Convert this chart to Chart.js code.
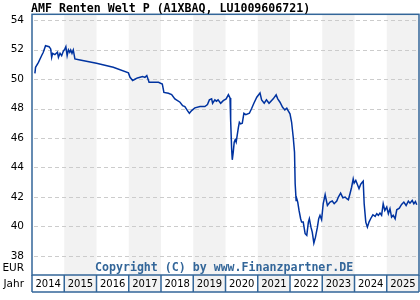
<!DOCTYPE html>
<html lang="de">
<head>
<meta charset="UTF-8" />
<title>AMF Renten Welt P</title>
<script src="https://cdn.jsdelivr.net/npm/chart.js"></script>
<style>
  body { margin: 0; background: #fff; }
  #wrap { width: 420px; height: 300px; position: relative; }
</style>
</head>
<body>
<div id="wrap"><canvas id="myChart" width="420" height="300"></canvas></div>
<script>
// Zeitpunkte (Dezimaljahre) und Kurse in EUR
const datum = [2014.09, 2014.11, 2014.2, 2014.3, 2014.35, 2014.42, 2014.53, 2014.58, 2014.61, 2014.64,
  2014.71, 2014.79, 2014.82, 2014.87, 2014.92, 2014.97, 2015.02, 2015.05, 2015.09, 2015.13,
  2015.17, 2015.2, 2015.24, 2015.28, 2015.33, 2015.49, 2016.0, 2016.52, 2016.99, 2017.04,
  2017.12, 2017.19, 2017.27, 2017.43, 2017.5, 2017.56, 2017.63, 2017.76, 2017.92, 2018.04,
  2018.09, 2018.23, 2018.33, 2018.43, 2018.59, 2018.67, 2018.74, 2018.82, 2018.88, 2018.95,
  2019.05, 2019.21, 2019.36, 2019.44, 2019.5, 2019.57, 2019.6, 2019.67, 2019.72, 2019.77,
  2019.85, 2019.93, 2020.02, 2020.09, 2020.14, 2020.16, 2020.19, 2020.21, 2020.24, 2020.27,
  2020.3, 2020.33, 2020.4, 2020.43, 2020.47, 2020.52, 2020.57, 2020.63, 2020.74, 2020.81,
  2020.88, 2020.97, 2021.07, 2021.12, 2021.2, 2021.27, 2021.35, 2021.48, 2021.57, 2021.62,
  2021.69, 2021.77, 2021.84, 2021.9, 2021.95, 2022.0, 2022.05, 2022.1, 2022.14, 2022.16,
  2022.19, 2022.21, 2022.24, 2022.28, 2022.33, 2022.36, 2022.41, 2022.47, 2022.52, 2022.57,
  2022.6, 2022.65, 2022.69, 2022.74, 2022.79, 2022.85, 2022.89, 2022.93, 2022.98, 2023.03,
  2023.09, 2023.16, 2023.24, 2023.31, 2023.37, 2023.45, 2023.5, 2023.57, 2023.64, 2023.71,
  2023.76, 2023.81, 2023.86, 2023.91, 2023.96, 2023.99, 2024.04, 2024.09, 2024.14, 2024.19,
  2024.24, 2024.27, 2024.3, 2024.35, 2024.4, 2024.45, 2024.5, 2024.57, 2024.64, 2024.69,
  2024.74, 2024.79, 2024.84, 2024.89, 2024.94, 2025.0, 2025.05, 2025.1, 2025.15, 2025.2,
  2025.26, 2025.31, 2025.39, 2025.46, 2025.53, 2025.6, 2025.67, 2025.72, 2025.79, 2025.84,
  2025.89, 2025.93];
const kurs = [50.39, 50.8, 51.14, 51.6, 51.82, 52.27, 52.2, 52.05, 51.48, 51.75,
  51.66, 51.82, 51.48, 51.75, 51.59, 51.89, 52.05, 52.2, 51.59, 51.98,
  51.82, 51.98, 51.75, 51.98, 51.37, 51.3, 51.07, 50.8, 50.42, 50.12,
  49.9, 49.99, 50.08, 50.17, 50.12, 50.24, 49.78, 49.78, 49.78, 49.67,
  49.1, 49.04, 48.95, 48.66, 48.43, 48.2, 48.14, 47.86, 47.68, 47.86,
  48.05, 48.14, 48.14, 48.27, 48.59, 48.66, 48.36, 48.59, 48.5, 48.59,
  48.36, 48.54, 48.66, 48.95, 48.72, 47.19, 45.27, 44.52, 45.04, 45.72,
  45.88, 45.72, 46.73, 47.07, 46.96, 47.0, 47.68, 47.59, 47.68, 48.0,
  48.36, 48.77, 49.06, 48.59, 48.36, 48.59, 48.36, 48.66, 48.93, 48.66,
  48.43, 48.09, 47.91, 48.02, 47.82, 47.64, 47.07, 46.05, 45.04, 42.9,
  41.76, 41.88, 41.65, 41.08, 40.52, 40.29, 40.29, 39.5, 39.39, 40.29,
  40.52, 39.95, 39.61, 38.87, 39.27, 39.95, 40.52, 40.75, 40.45, 41.54,
  42.15, 41.42, 41.65, 41.72, 41.54, 41.72, 41.99, 42.26, 41.94, 41.99,
  41.88, 41.81, 42.22, 42.66, 43.23, 42.94, 43.12, 42.85, 42.56, 42.85,
  43.0, 43.07, 41.54, 40.29, 39.95, 40.29, 40.52, 40.79, 40.68, 40.86,
  40.75, 40.9, 40.75, 41.54, 41.08, 41.31, 40.86, 41.2, 40.63, 40.75,
  40.52, 41.13, 41.24, 41.49, 41.65, 41.42, 41.72, 41.58, 41.76, 41.54,
  41.69, 41.47];
const jahre = [2014, 2015, 2016, 2017, 2018, 2019, 2020, 2021, 2022, 2023, 2024, 2025];
const yTicks = [38, 40, 42, 44, 46, 48, 50, 52, 54];

const titel = "AMF Renten Welt P (A1XBAQ, LU1009606721)";
const copyright = "Copyright (C) by www.Finanzpartner.DE";
const blau = "#336699";

const dekor = {
  id: "dekor",
  beforeDatasetsDraw(chart) {
    const { ctx, chartArea: a, scales: { x } } = chart;
    ctx.save();
    ctx.fillStyle = "#f2f2f2";
    jahre.forEach(j => {
      if (j % 2 === 1) {
        const x1 = x.getPixelForValue(j), x2 = x.getPixelForValue(j + 1);
        ctx.fillRect(x1, a.top, x2 - x1, a.bottom - a.top);
      }
    });
    // gestrichelte Gitterlinien
    const y = chart.scales.y;
    ctx.strokeStyle = "#cccccc";
    ctx.lineWidth = 1;
    ctx.setLineDash([4, 3]);
    yTicks.forEach(t => {
      const py = Math.round(y.getPixelForValue(t)) + 0.5;
      ctx.beginPath();
      ctx.moveTo(a.left + 2, py);
      ctx.lineTo(a.right, py);
      ctx.stroke();
    });
    ctx.setLineDash([]);
    // Copyright
    ctx.font = "bold 11.6px 'DejaVu Sans Mono'";
    ctx.fillStyle = blau;
    ctx.textBaseline = "middle";
    ctx.textAlign = "left";
    ctx.fillText(copyright, 95, 268);
    ctx.restore();
  },
  afterDraw(chart) {
    const { ctx, chartArea: a, scales: { x } } = chart;
    ctx.save();
    // Jahresleiste
    const top = a.bottom, bot = 292;
    jahre.forEach(j => {
      const x1 = x.getPixelForValue(j), x2 = x.getPixelForValue(j + 1);
      if (j % 2 === 1) {
        ctx.fillStyle = "#f2f2f2";
        ctx.fillRect(x1, top, x2 - x1, bot - top);
      }
      ctx.fillStyle = "#000";
      ctx.font = "10px 'DejaVu Sans'";
      ctx.textAlign = "center";
      ctx.textBaseline = "middle";
      ctx.fillText(String(j), (x1 + x2) / 2, (top + bot) / 2 + 0.5);
    });
    ctx.strokeStyle = blau;
    ctx.lineWidth = 1.5;
    ctx.strokeRect(a.left, a.top, a.right - a.left, a.bottom - a.top);
    ctx.beginPath();
    ctx.moveTo(a.left, bot);
    ctx.lineTo(a.right, bot);
    jahre.forEach(j => {
      const px = x.getPixelForValue(j);
      ctx.moveTo(px, top);
      ctx.lineTo(px, bot);
    });
    ctx.moveTo(a.right, top);
    ctx.lineTo(a.right, bot);
    ctx.stroke();
    // Beschriftungen
    ctx.fillStyle = "#000";
    ctx.font = "10.5px 'DejaVu Sans'";
    ctx.textAlign = "right";
    ctx.textBaseline = "middle";
    ctx.fillText("EUR", 24, 268);
    ctx.fillText("Jahr", 24, 284);
    ctx.font = "bold 11.6px 'DejaVu Sans Mono'";
    ctx.textAlign = "left";
    ctx.fillText(titel, 31, 9);
    ctx.restore();
  }
};

const punkte = datum.map((d, i) => ({ x: d, y: kurs[i] }));

new Chart(document.getElementById("myChart"), {
  type: "line",
  data: {
    datasets: [{
      data: punkte,
      borderColor: "#0033a0",
      borderWidth: 1.5,
      pointRadius: 0,
      tension: 0,
      fill: false
    }]
  },
  options: {
    responsive: false,
    animation: false,
    layout: { padding: { top: 14, right: 1, bottom: 25, left: 0 } },
    plugins: { legend: { display: false }, tooltip: { enabled: false } },
    scales: {
      x: {
        type: "linear",
        min: 2014,
        max: 2026,
        display: false
      },
      y: {
        min: 36.7,
        max: 54.4,
        afterBuildTicks: s => { s.ticks = yTicks.map(v => ({ value: v })); },
        afterFit: s => { s.width = 32; },
        grid: { display: false, drawTicks: false },
        border: { display: false },
        ticks: {
          color: "#000",
          padding: 8,
          font: { family: "DejaVu Sans", size: 10.5 }
        }
      }
    }
  },
  plugins: [dekor]
});
</script>
</body>
</html>
